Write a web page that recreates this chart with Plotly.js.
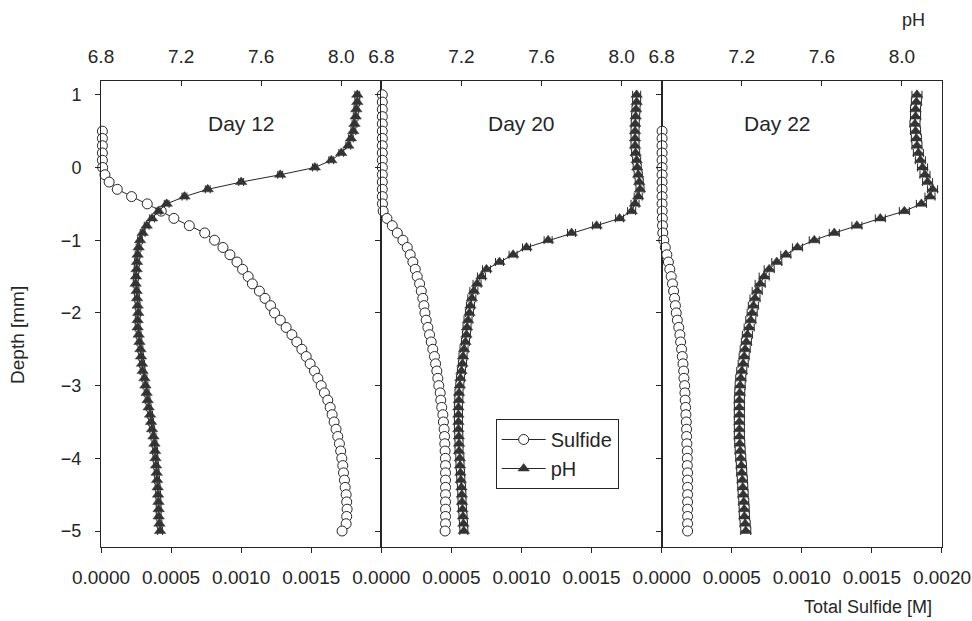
<!DOCTYPE html>
<html>
<head>
<meta charset="utf-8">
<script src="https://cdn.plot.ly/plotly-3.0.1.min.js"></script>
<style>
  html, body { margin: 0; padding: 0; background: #fff; }
  #chart { width: 972px; height: 621px; }
</style>
</head>
<body>
<div id="chart"></div>
<script>
// Depth grid of the profiles (mm, positive above the sediment surface)
const depthFull = [1.0, 0.9, 0.8, 0.7, 0.6, 0.5, 0.4, 0.3, 0.2, 0.1, 0.0,
  -0.1, -0.2, -0.3, -0.4, -0.5, -0.6, -0.7, -0.8, -0.9, -1.0,
  -1.1, -1.2, -1.3, -1.4, -1.5, -1.6, -1.7, -1.8, -1.9, -2.0,
  -2.1, -2.2, -2.3, -2.4, -2.5, -2.6, -2.7, -2.8, -2.9, -3.0,
  -3.1, -3.2, -3.3, -3.4, -3.5, -3.6, -3.7, -3.8, -3.9, -4.0,
  -4.1, -4.2, -4.3, -4.4, -4.5, -4.6, -4.7, -4.8, -4.9, -5.0];
const depthFromHalf = depthFull.slice(5);   // 0.5 mm down to -5.0 mm

const panelTitles = ['Day 12', 'Day 20', 'Day 22'];
const seriesNames = ['Sulfide', 'pH'];

// Total sulfide [M]
const sulfideDay12 = [0.00001, 0.00001, 0.00001, 0.00001, 0.00001, 0.000012,
  0.000028, 0.000058, 0.000116, 0.000218, 0.00033, 0.00043, 0.00052, 0.00063, 0.00074, 0.00081,
  0.00087, 0.00092, 0.00097, 0.00101, 0.00105, 0.00108, 0.00113, 0.00117, 0.00121, 0.001238,
  0.001279, 0.001321, 0.001362, 0.001397, 0.001433, 0.001464, 0.001492, 0.001523, 0.001547, 0.001571,
  0.001594, 0.001618, 0.001635, 0.001649, 0.001663, 0.001677, 0.001689, 0.001701, 0.00171, 0.001718,
  0.001725, 0.00173, 0.001737, 0.001742, 0.001749, 0.001753, 0.001756, 0.001753, 0.001749, 0.00172];

const sulfideDay20 = [0.000007, 0.000007, 0.000007, 0.000007, 0.000007, 0.000007, 0.000007, 0.000007,
  0.000007, 0.000007, 0.000007, 0.000007, 0.000007, 0.000007, 0.000007, 0.000008,
  0.000013, 0.00004, 0.000078, 0.000114, 0.000154,
  0.000185, 0.000206, 0.000225, 0.000242, 0.000256, 0.000273, 0.000285, 0.000296, 0.000304, 0.000311,
  0.00032, 0.000332, 0.000344, 0.000356, 0.000367, 0.000379, 0.000387, 0.000396, 0.000403, 0.00041,
  0.00042, 0.000424, 0.000431, 0.000439, 0.000443, 0.000448, 0.000451, 0.000453, 0.000455, 0.000457,
  0.000458, 0.000458, 0.000458, 0.000458, 0.000458, 0.000458, 0.000458, 0.000458, 0.000458, 0.000455];

const sulfideDay22 = [0.000003, 0.000003, 0.000003, 0.000003, 0.000003, 0.000003,
  0.000003, 0.000003, 0.000003, 0.000003, 0.000003, 0.000004, 0.000005, 0.000006, 0.000008,
  0.000015, 0.000026, 0.000037, 0.000048, 0.000058, 0.000068, 0.000077, 0.000085, 0.000092, 0.000098,
  0.000104, 0.000112, 0.000122, 0.00013, 0.000135, 0.000142, 0.000147, 0.000152, 0.000157, 0.000159,
  0.000164, 0.000166, 0.000168, 0.000171, 0.000173, 0.000176, 0.000178, 0.000178, 0.00018, 0.000183,
  0.000183, 0.000183, 0.000185, 0.000185, 0.000185, 0.000185, 0.000185, 0.000185, 0.000185, 0.000185, 0.000185];

// pH
const phDay12 = [8.08, 8.08, 8.075, 8.072, 8.066, 8.06, 8.048, 8.035, 8.0, 7.95, 7.868,
  7.695, 7.5, 7.333, 7.217, 7.128, 7.087, 7.055, 7.028, 7.008, 6.995,
  6.988, 6.983, 6.98, 6.978, 6.975, 6.973, 6.978, 6.98, 6.983, 6.986,
  6.983, 6.983, 6.988, 6.992, 6.997, 7.0, 7.005, 7.008, 7.017, 7.022,
  7.028, 7.033, 7.038, 7.045, 7.05, 7.055, 7.062, 7.067, 7.07, 7.072,
  7.075, 7.078, 7.08, 7.083, 7.085, 7.087, 7.088, 7.088, 7.092, 7.095];

const phDay20 = [8.075, 8.075, 8.072, 8.07, 8.068, 8.067, 8.067, 8.067, 8.07, 8.075, 8.078,
  8.083, 8.088, 8.092, 8.083, 8.067, 8.05, 7.99, 7.875, 7.75, 7.633,
  7.525, 7.458, 7.39, 7.325, 7.30, 7.278, 7.262, 7.252, 7.245, 7.24,
  7.233, 7.228, 7.225, 7.22, 7.213, 7.208, 7.205, 7.2, 7.195, 7.192,
  7.188, 7.187, 7.185, 7.185, 7.185, 7.185, 7.187, 7.188, 7.188, 7.192,
  7.193, 7.195, 7.197, 7.2, 7.202, 7.203, 7.205, 7.208, 7.21, 7.212];

const phDay22 = [8.075, 8.072, 8.068, 8.068, 8.065, 8.068, 8.072, 8.075, 8.082, 8.092, 8.103,
  8.115, 8.128, 8.153, 8.14, 8.097, 8.012, 7.892, 7.775, 7.662, 7.562,
  7.478, 7.42, 7.375, 7.337, 7.312, 7.292, 7.277, 7.266, 7.258, 7.252,
  7.245, 7.237, 7.228, 7.223, 7.217, 7.212, 7.207, 7.2, 7.195, 7.192,
  7.19, 7.188, 7.188, 7.188, 7.188, 7.188, 7.188, 7.19, 7.192, 7.195,
  7.198, 7.2, 7.203, 7.205, 7.207, 7.21, 7.212, 7.213, 7.217, 7.22];

// pH measurement uncertainty (± pH units) for each day
const phError = [0.012, 0.02, 0.025];

// Axis ticks
const sulfideTicksInner = [0, 0.0005, 0.0010, 0.0015];
const sulfideTicksLast = [0, 0.0005, 0.0010, 0.0015, 0.0020];
const phTicks = [6.8, 7.2, 7.6, 8.0];
const depthTicks = [1, 0, -1, -2, -3, -4, -5];

const sulfideSets = [
  { x: sulfideDay12, y: depthFromHalf },
  { x: sulfideDay20, y: depthFull },
  { x: sulfideDay22, y: depthFromHalf }
];
const phSets = [phDay12, phDay20, phDay22];

const FONT = 'Liberation Sans, Arial, Helvetica, sans-serif';
const INK = '#262626';

const traces = [];
for (let i = 0; i < 3; i++) {
  const sx = i === 0 ? 'x' : 'x' + (i + 1);
  const sy = i === 0 ? 'y' : 'y' + (i + 1);
  const px = 'x' + (i + 4);
  traces.push({
    type: 'scatter', mode: 'lines+markers',
    name: seriesNames[0], legendgroup: 'sulfide', showlegend: i === 0,
    x: sulfideSets[i].x, y: sulfideSets[i].y,
    xaxis: sx, yaxis: sy,
    line: { color: INK, width: 1 },
    marker: { symbol: 'circle', size: 10, color: '#ffffff', line: { color: INK, width: 1 } },
    cliponaxis: false
  });
  traces.push({
    type: 'scatter', mode: 'lines+markers',
    name: seriesNames[1], legendgroup: 'ph', showlegend: i === 0,
    x: phSets[i], y: depthFull,
    xaxis: px, yaxis: sy,
    line: { color: INK, width: 1 },
    marker: { symbol: 'triangle-up', size: 10, color: '#333333', line: { color: '#333333', width: 0.5 } },
    error_x: { type: 'constant', value: phError[i], color: INK, thickness: 1, width: 4 },
    cliponaxis: false
  });
}

const layout = {
  width: 972, height: 621,
  margin: { l: 101, r: 30, t: 81, b: 74 },
  paper_bgcolor: '#ffffff', plot_bgcolor: 'rgba(0,0,0,0)',
  font: { family: FONT, color: INK, size: 18 },
  showlegend: true,
  legend: {
    x: 0.4693, y: 0.2747, xanchor: 'left', yanchor: 'top',
    bgcolor: '#ffffff', bordercolor: INK, borderwidth: 1,
    font: { family: FONT, size: 20, color: INK },
    itemwidth: 44, tracegroupgap: 0
  },
  annotations: [],
  hovermode: false
};

const domains = [[0, 1 / 3], [1 / 3, 2 / 3], [2 / 3, 1]];
const commonLine = { showline: true, linecolor: INK, linewidth: 1, showgrid: false, zeroline: false };

for (let i = 0; i < 3; i++) {
  const n = i === 0 ? '' : String(i + 1);
  layout['xaxis' + n] = Object.assign({}, commonLine, {
    domain: domains[i], anchor: 'y' + n, range: [0, 0.002],
    tickvals: i === 2 ? sulfideTicksLast : sulfideTicksInner, tickformat: '.4f',
    ticks: 'outside', ticklen: 5, tickcolor: INK, mirror: true,
    tickfont: { family: FONT, size: 19, color: INK }, ticklabelstandoff: 8
  });
  layout['xaxis' + (i + 4)] = Object.assign({}, commonLine, {
    overlaying: i === 0 ? 'x' : 'x' + (i + 1), side: 'top', anchor: 'y' + n,
    range: [6.8, 8.2], tickvals: phTicks, tickformat: '.1f',
    ticks: 'inside', ticklen: 5, tickcolor: INK,
    tickfont: { family: FONT, size: 19, color: INK }, ticklabelstandoff: 9
  });
  layout['yaxis' + n] = Object.assign({}, commonLine, {
    domain: [0, 1], anchor: 'x' + n, range: [-5.22, 1.19],
    tickvals: depthTicks, ticks: 'outside', ticklen: 5, tickcolor: INK, mirror: true,
    showticklabels: i === 0,
    tickfont: { family: FONT, size: 18, color: INK }, ticklabelstandoff: 10
  });
  layout.annotations.push({
    text: panelTitles[i], xref: 'x' + (i + 4), yref: i === 0 ? 'y' : 'y' + (i + 1),
    x: [7.5, 7.5, 7.38][i], y: 0.6, showarrow: false,
    xanchor: 'center', yanchor: 'middle',
    font: { family: FONT, size: 21, color: INK }
  });
}

// Axis titles
layout.annotations.push(
  { text: 'pH', xref: 'paper', yref: 'paper', x: 0.9667, y: 1.131,
    xanchor: 'center', yanchor: 'middle', showarrow: false,
    font: { family: FONT, size: 18, color: INK } },
  { text: 'Total Sulfide [M]', xref: 'paper', yref: 'paper', x: 0.912, y: -0.1288,
    xanchor: 'center', yanchor: 'middle', showarrow: false,
    font: { family: FONT, size: 18, color: INK } },
  { text: 'Depth [mm]', xref: 'paper', yref: 'paper', x: -0.0987, y: 0.455, textangle: -90,
    xanchor: 'center', yanchor: 'middle', showarrow: false,
    font: { family: FONT, size: 19, color: INK } }
);

Plotly.newPlot('chart', traces, layout, { displayModeBar: false, staticPlot: true });
</script>
</body>
</html>
